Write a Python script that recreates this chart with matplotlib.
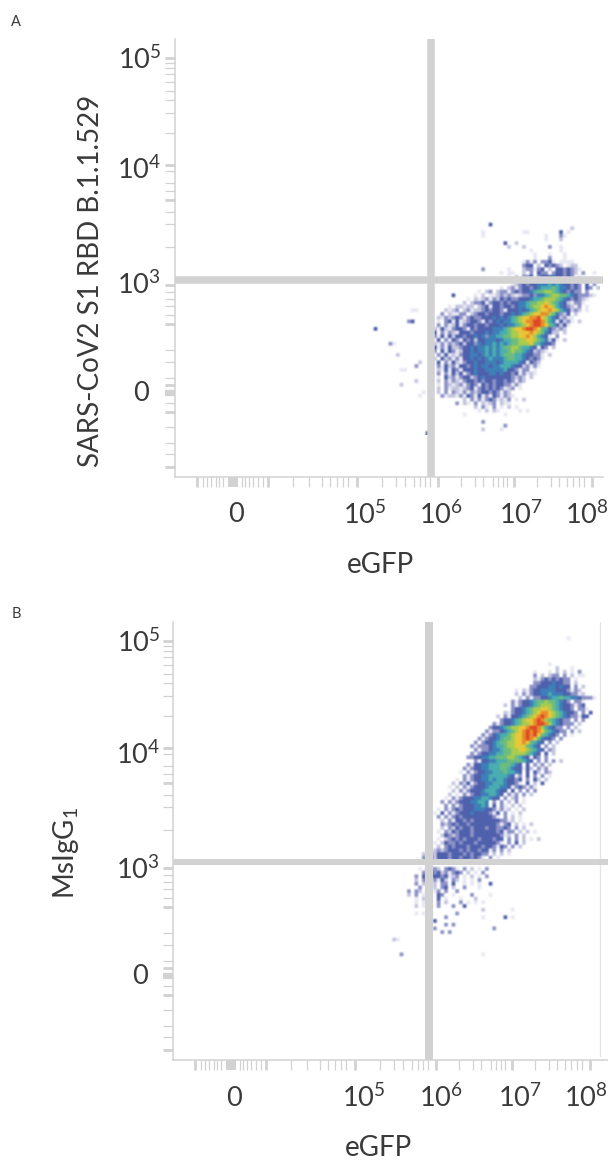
"""Two flow cytometry density plots (eGFP vs RBD binding and eGFP vs MsIgG1)."""
import matplotlib
matplotlib.use("Agg")
import matplotlib.pyplot as plt
import numpy as np
from matplotlib.colors import ListedColormap

W, H = 608, 1161
GRAY = "#d2d2d2"
INK = "#3a3a3a"

plt.rcParams["font.family"] = ["Lato", "DejaVu Sans"]
plt.rcParams["mathtext.default"] = "regular"

# axis channels (pixels of the instrument plot, counted from the lower left)
X_MINOR = [28, 32, 36, 41, 44, 48, 67, 70, 74, 78, 83, 88, 118, 134, 147, 155, 162, 168, 173,
           207, 221, 230, 239, 245, 250, 255, 286, 300, 308, 318, 323, 328, 332,
           362, 376, 384, 392, 398, 404, 409]
X_THICK = [22, 93, 182, 263, 339, 417]
X_ZERO = 58
Y_MINOR = [10, 23, 34, 50, 65, 74, 92, 99, 115, 127, 153, 162, 171, 178, 185, 192,
           230, 253, 265, 277, 286, 294, 306, 312, 344, 364, 377, 386, 395, 403, 409, 414]
Y_THICK = [10, 65, 92, 153, 192, 277, 312, 419]
Y_ZERO = 84

X_TICKS_TEXT = ["0", "$10^5$", "$10^6$", "$10^7$", "$10^8$"]
Y_TICKS_TEXT = ["$10^5$", "$10^4$", "$10^3$", "0"]

# density cells: (row, first column, levels), row 0 at the top of the crop
GRID_CELL = 230 / 62
A_CELLS = [
    (1, 32, "4"), (2, 54, "2"), (3, 30, "1"), (3, 41, "11"), (3, 51, "4"), (3, 53, "1"),
    (4, 30, "1"), (4, 47, "1"), (4, 51, "31"), (5, 47, "1"), (5, 51, "2"), (6, 36, "4"),
    (6, 39, "2"), (7, 37, "2"), (7, 41, "2"), (7, 48, "3"), (7, 51, "1"), (8, 51, "1"),
    (8, 43, "1"), (9, 44, "1"), (9, 48, "1"), (9, 52, "1"), (10, 44, "1"), (10, 48, "3"),
    (10, 52, "1"),
    (11, 41, "1313.3341.1111"),
    (12, 41, "344.2.43432.122"),
    (13, 30, "3"), (13, 37, "1"), (13, 41, "233134.2.4434321"),
    (14, 35, "1.11..2.3.433.3443432.3..1"),
    (15, 37, "1.2.334.3444544343.1"),
    (16, 35, "1.1.23.3445555544433.11"),
    (17, 38, "1234344555656544343.4.3"),
    (18, 35, "1.23134434566676554343.43.2"),
    (19, 29, "1.23.23313434456778876543433.3"),
    (20, 22, "4"), (20, 28, "1.2.11232321233435567887765433321.1"),
    (21, 26, "1.2123132434334445667888765434321"),
    (22, 25, "2.2334134434344556778898765421331"),
    (23, 21, "1.22122.234144344345567889a986543213.1"),
    (24, 11, "11"), (24, 20, "2123.23122343443144454567899a98654232.1"),
    (25, 19, "3.21133.2344344434454567899aa875324.2"),
    (26, 18, "2132343134334445454567899aab986542311"),
    (27, 10, "34"), (27, 18, "1.3414123443143454556789aabba86514231.2"),
    (28, 18, "3.31241344344344454556789abba9764241"),
    (29, 1, "4"), (29, 17, "214213443143444455567899abba97643232"),
    (30, 17, "4.313214443444545566788999a9875422.2"),
    (31, 17, "3141424434454535566778899a986541.3"),
    (32, 18, "4.3143143424455545667788998765241.2"),
    (33, 5, "31"), (33, 17, "213132342443545565656778889765443"),
    (34, 17, "4131422344545565656778876654143.2"),
    (35, 17, "3.41431244545565656678776542321"),
    (36, 7, "2"), (36, 18, "31412134455456565677766544331.2"),
    (37, 17, "2.4231314454545655567766543431"),
    (38, 13, "2"), (38, 18, "4.31421344544555456666541432"),
    (39, 12, "3"), (39, 18, "3142314434545545566654423131"),
    (40, 8, "11"), (40, 18, "2141431444544555556443133.1"),
    (41, 18, "3.3142413454445545443413121"),
    (42, 18, "1.4231344234544444443232.2"),
    (43, 12, "2"), (43, 18, "2.3132134434344344343132"),
    (44, 8, "2"), (44, 18, "1.321231343143434433131"),
    (45, 18, "2.3122123413434343123.1"),
    (46, 14, "1"), (46, 18, "2.3.3213132344343132"),
    (47, 13, "1"), (47, 19, "31221314314131431321"),
    (48, 25, "2.31313431213.1.2"),
    (49, 23, "3.21.3.2123.211"),
    (50, 28, "2.31.3.1.2.1"),
    (51, 29, "1.2.21.....1.1"),
    (52, 25, "1"), (52, 36, "1"), (54, 30, "3"), (55, 36, "3"), (56, 30, "2"), (56, 35, "1"),
    (57, 15, "4"),
]
B_CELLS = [
    (2, 53, "1"), (9, 48, "1"), (10, 50, "2"), (10, 54, "1"),
    (11, 44, "1"), (11, 48, "1.2.2.1.3"),
    (12, 44, "3.2.233.3.2.11"),
    (13, 44, "2134343433.1"),
    (14, 44, "3344454433.2"),
    (15, 43, "33444554544.3.2"),
    (16, 39, "1.2134455554443132"),
    (17, 39, "2.31344556555443312"),
    (18, 40, "2.3133445667665543331"),
    (19, 38, "3134456778776543.331"),
    (20, 36, "2.31344567888765443134"),
    (21, 38, "34456788998765443.331"),
    (22, 36, "2134456789aa98765443.3.4"),
    (23, 34, "2.314456789aba98765433144"),
    (24, 35, "344567899aba8765433.3.3"),
    (25, 33, "31344567889abba8654333.2"),
    (26, 32, "3445678899abba865433.3.2"),
    (27, 31, "3133456789ababa9765433.3.2"),
    (28, 30, "31345667899abab976543.3.1"),
    (29, 29, "313445677899aba975443.3"),
    (30, 28, "3.34456778899a97654.3.2"),
    (31, 27, "3133345667889997654.3.2"),
    (32, 28, "3133455677889987654132"),
    (33, 27, "3134455667788887654.4.2"),
    (34, 26, "33445566777887654143.3"),
    (35, 28, "3144556667777654.3.3.3.2"),
    (36, 26, "314455666777654.4.313.2"),
    (37, 25, "3134455666776544142.313"),
    (38, 24, "1.313445566676654.4.42.32"),
    (39, 25, "3134455666665413.4.3.3.1"),
    (40, 23, "1.3134455656654434.3.42.2"),
    (41, 22, "2.32413445566654431.4.2.4"),
    (42, 21, "1.2.31344456665541343131"),
    (43, 22, "2.3134445666544.4.3.3.3"),
    (44, 21, "2.1.31344556654.313.3.2"),
    (45, 20, "1.3134445566544.3.23.1"),
    (46, 19, "3.31344455665.3.3.2.3.1"),
    (47, 20, "3.3134445565.4.31.2.2"),
    (48, 18, "1.313434445554431312.1.2"),
    (49, 17, "1.4.31344454444314.3.1.2"),
    (50, 18, "3.313434444444431.3.2.1"),
    (51, 19, "2.314434344444443312.1"),
    (52, 19, "3234344344444443134.2.1.2"),
    (53, 19, "2.32434434443443343.3.2"),
    (54, 18, "1.3243444344444434133.2.2.1"),
    (55, 19, "2432344434444444312.3.2"),
    (56, 18, "1.2343434443444344.3.3.2.1.2"),
    (57, 17, "1.24334344434444431.3.4.2"),
    (58, 16, "1.2.34344434443443143.3.2"),
    (59, 15, "1.23234443434434413.3.2"),
    (60, 14, "2.3244434443434433.2.2.1"),
    (61, 14, "3.424443443443431.3.1"),
    (62, 14, "3.4.344.3443131.2"),
    (64, 13, "1.3232.3431.3.2.1.3"),
    (65, 14, "31434231343.2.1.3"),
    (66, 12, "3.4.34434123.1.2.1.3"),
    (67, 12, "2.34.3142.32.1.1.3"),
    (68, 12, "3.23.2.33.4..1.1.1..4"),
    (69, 13, "3.1.2.34.2..3...1"),
    (70, 10, "3.32.3.13.3..3"),
    (71, 10, "2.3.1.1.43..1....3....1"),
    (72, 12, "1.2.1.4.1...1...2"),
    (73, 12, "1.1.1.3.2...3.1.1.1"),
    (74, 12, "2.1.2.3...3..4"),
    (75, 30, "2"), (75, 38, "1"), (76, 12, "1.1.1"), (76, 23, "3"),
    (77, 20, "3"), (77, 30, "1"), (77, 36, "4"), (77, 38, "1"), (78, 17, "4"),
    (79, 20, "3.3"), (80, 17, "3"), (80, 33, "3"), (81, 19, "3.3"),
    (83, 6, "21"), (87, 8, "3"), (87, 30, "1"),
]

LEVEL_COLORS = ["#ffffff", "#e8e8f3", "#c4c6e0", "#8c92c6", "#4f60ac", "#3d80b8",
                "#4aaeb0", "#6dbd7e", "#a8cc50", "#e8c838", "#ea8a2c", "#dd4a26"]
cmap = ListedColormap(LEVEL_COLORS)


def px(x0, y0, x1, y1):
    return [x0 / W, 1 - y1 / H, (x1 - x0) / W, (y1 - y0) / H]


def cells_to_grid(cells, nrows, ncols=62):
    grid = np.zeros((nrows, ncols), dtype=int)
    for row, col, levels in cells:
        for k, c in enumerate(levels):
            if c != "." and col + k < ncols:
                grid[row, col + k] = int(c, 16)
    return grid


def draw_panel(box, cells, nrows, origin, vline, hline):
    left, top, right, bottom = box
    ax = fig.add_axes(px(left, top, right, bottom))
    rgb = cmap(cells_to_grid(cells, nrows))[:, :, :3]
    gx, gy = origin[0] - left, bottom - origin[1]
    # soft edges like the upscaled reference
    ax.imshow(rgb, aspect="auto", interpolation="hanning",
              extent=[gx, gx + 62 * GRID_CELL, gy - nrows * GRID_CELL, gy], zorder=1)
    ax.set_xlim(0, right - left)
    ax.set_ylim(0, bottom - top)

    # gate lines
    ax.axvline(vline[0], color=GRAY, lw=vline[1] * 0.72, zorder=3, solid_capstyle="butt")
    ax.axhline(hline[0], color=GRAY, lw=hline[1] * 0.72, zorder=3, solid_capstyle="butt")

    for s in ["top", "right"]:
        ax.spines[s].set_visible(False)
    for s in ["left", "bottom"]:
        ax.spines[s].set_color(GRAY)
        ax.spines[s].set_linewidth(1.1)

    ax.set_xticks(X_MINOR, minor=True)
    ax.set_yticks(Y_MINOR, minor=True)
    ax.tick_params(which="minor", color=GRAY, length=7.5, width=0.9)
    ax.set_xticks(X_THICK)
    ax.set_yticks(Y_THICK)
    ax.tick_params(which="major", color=GRAY, length=7.5, width=2.0, labelbottom=False, labelleft=False)
    # the wide tick block around zero
    ax.vlines(X_ZERO, -10, 0, color=GRAY, lw=7.2, clip_on=False)
    ax.hlines(Y_ZERO, -10, 0, color=GRAY, lw=4.5, clip_on=False)
    return ax


def label(x, y, s, size=19.5, **kw):
    fig.text(x / W, 1 - y / H, s, fontsize=size, color=INK,
             ha=kw.pop("ha", "center"), va="center", **kw)


fig = plt.figure(figsize=(W / 100, H / 100), dpi=100)

ax_a = draw_panel((175, 39, 603, 477), A_CELLS, 58, (370, 220), (255.5, 7.5), (197.5, 7.5))
ax_b = draw_panel((173, 622, 608, 1060), B_CELLS, 89, (370, 630), (256, 8), (198, 6))
ax_b.axvline(427, color="#e4e4e4", lw=0.9, ymin=0.01, zorder=2)

label(16, 22, "A", size=10.5)
label(16, 614, "B", size=10.5)

for x, s in zip([236, 365, 441, 521, 587], X_TICKS_TEXT):
    label(x, 515, s)
for x, s in zip([234, 364, 441, 520, 586], X_TICKS_TEXT):
    label(x, 1098, s)
for y, s in zip([60, 170, 285], Y_TICKS_TEXT):
    label(161, y, s, ha="right")
label(141, 393, Y_TICKS_TEXT[3])
for y, s in zip([643, 755, 870], Y_TICKS_TEXT):
    label(160, y, s, ha="right")
label(140, 976, Y_TICKS_TEXT[3])

label(381, 565, "eGFP", size=20)
label(379, 1148, "eGFP", size=20)
label(91, 281, "SARS-CoV2 S1 RBD B.1.1.529", size=20, rotation=90)
label(66, 853, "MsIgG$_1$", size=20, rotation=90)

fig.savefig("out.png", dpi=100)
